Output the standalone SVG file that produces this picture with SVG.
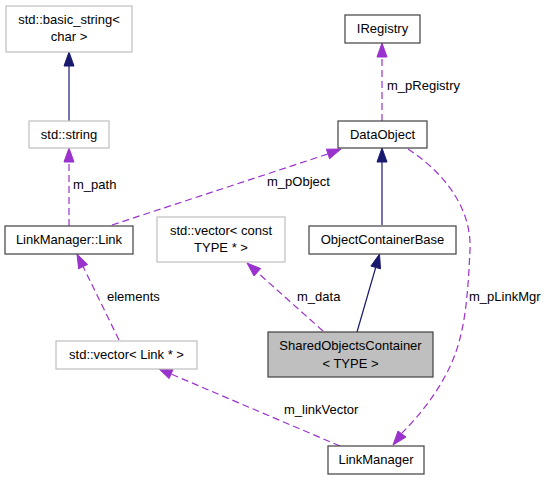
<svg xmlns="http://www.w3.org/2000/svg" width="547" height="480" viewBox="0 0 547 480">
<style>
text{font-family:"Liberation Sans",Arial,sans-serif;font-size:13px;fill:#000}
.c{text-anchor:middle}
.nb{fill:#fff;stroke:#404040;stroke-width:1.2}
.ng{fill:#fff;stroke:#bfbfbf;stroke-width:1.2}
.nf{fill:#bfbfbf;stroke:#404040;stroke-width:1.2}
.dl{fill:none;stroke:#9a32cd;stroke-width:1.2;stroke-dasharray:7,4}
.sl{fill:none;stroke:#191970;stroke-width:1.2}
.dh{fill:#9a32cd;stroke:#9a32cd}
.sh{fill:#191970;stroke:#191970}
</style>
<rect width="547" height="480" fill="#fff"/>
<g id="edges">
<line class="sl" x1="69" y1="121" x2="69" y2="66"/>
<polygon class="sh" points="69,52 74,66 64,66"/>
<line class="dl" x1="69" y1="226" x2="69" y2="162"/>
<polygon class="dh" points="69,148 74,162 64,162"/>
<line class="dl" x1="382" y1="121" x2="382" y2="57"/>
<polygon class="dh" points="382,43 387,57 377,57"/>
<line class="sl" x1="382" y1="225" x2="382" y2="162"/>
<polygon class="sh" points="382,148 387,162 377,162"/>
<line class="dl" x1="112" y1="225" x2="328" y2="154"/>
<polygon class="dh" points="341,149 329.6,158.8 326.4,149.2"/>
<line class="sl" x1="357" y1="332" x2="375.7" y2="267.5"/>
<polygon class="sh" points="379.5,254 380.5,268.8 370.9,266.1"/>
<line class="dl" x1="323" y1="331" x2="257.4" y2="272.4"/>
<polygon class="dh" points="247,263 260.7,268.6 254,276"/>
<line class="dl" x1="119" y1="340" x2="83.1" y2="266.6"/>
<polygon class="dh" points="77,254 87.6,264.4 78.6,268.8"/>
<line class="dl" x1="340" y1="446" x2="171" y2="374"/>
<polygon class="dh" points="158,368 173.1,369.4 169.1,378.6"/>
<path class="dl" d="M408,149 C440,170 472,205 470,250 C468,290 466,330 452,362 C440,390 420,415 402,433"/>
<polygon class="dh" points="393,445 398,431 406,437"/>
</g>
<g id="basic_string">
<rect class="ng" x="6" y="6" width="126" height="46"/>
<text class="c" x="69" y="24">std::basic_string&lt;</text>
<text class="c" x="69" y="41">char &gt;</text>
</g>
<g id="std_string">
<rect class="ng" x="29" y="121" width="80" height="27"/>
<text class="c" x="69" y="139">std::string</text>
</g>
<g id="link">
<rect class="nb" x="5" y="226" width="128" height="28"/>
<text class="c" x="69" y="244">LinkManager::Link</text>
</g>
<g id="vector_const">
<rect class="ng" x="157" y="217" width="128" height="45"/>
<text class="c" x="221" y="235">std::vector&lt; const</text>
<text class="c" x="221" y="252">TYPE * &gt;</text>
</g>
<g id="vector_link">
<rect class="ng" x="56" y="341" width="141" height="28"/>
<text class="c" x="126.5" y="359">std::vector&lt; Link * &gt;</text>
</g>
<g id="iregistry">
<rect class="nb" x="345" y="15" width="75" height="28"/>
<text class="c" x="382.5" y="33">IRegistry</text>
</g>
<g id="dataobject">
<rect class="nb" x="338" y="121" width="89" height="27"/>
<text class="c" x="382.5" y="139">DataObject</text>
</g>
<g id="ocb">
<rect class="nb" x="309" y="226" width="147" height="28"/>
<text class="c" x="382.5" y="244">ObjectContainerBase</text>
</g>
<g id="soc">
<rect class="nf" x="268" y="332" width="165" height="45"/>
<text class="c" x="350.5" y="350">SharedObjectsContainer</text>
<text class="c" x="350.5" y="368">&lt; TYPE &gt;</text>
</g>
<g id="linkmanager">
<rect class="nb" x="328" y="446" width="96" height="28"/>
<text class="c" x="376" y="464">LinkManager</text>
</g>
<g id="labels">
<text x="73" y="189">m_path</text>
<text x="387" y="90">m_pRegistry</text>
<text x="267" y="186">m_pObject</text>
<text x="107" y="301">elements</text>
<text x="297" y="301">m_data</text>
<text x="469" y="301">m_pLinkMgr</text>
<text x="284" y="414">m_linkVector</text>
</g>
</svg>
